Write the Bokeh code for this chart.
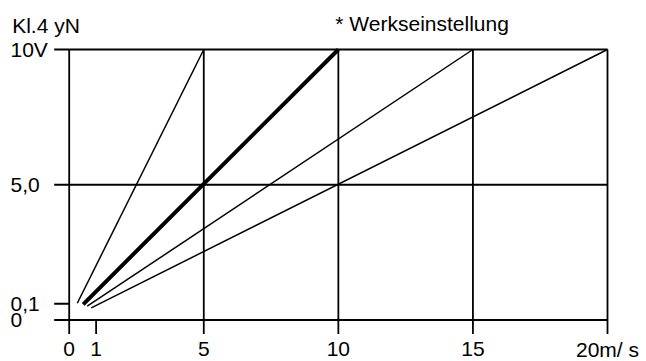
from bokeh.plotting import figure
from bokeh.models import Range1d, Label
from bokeh.embed import file_html
from bokeh.resources import INLINE

# ---- data ----
x_ticks = [0, 1, 5, 10, 15, 20]
x_tick_labels = ["0", "1", "5", "10", "15", "20m/ s"]
y_ticks = [0, 0.6, 5, 10]
y_tick_labels = ["0", "0,1", "5,0", "10V"]
x_grid = [0, 5, 10, 15, 20]
y_grid = [0, 5, 10]

# four characteristic lines (start and end points)
x_start = [0.30, 0.52, 0.67, 0.82]
y_start = [0.62, 0.58, 0.51, 0.45]
x_end = [5, 10, 15, 20]
y_end = [10, 10, 10, 10]
factory_setting = [False, True, False, False]

y_axis_title = "Kl.4 yN"
note_text = "* Werkseinstellung"

# ---- layout / style ----
W, H = 646, 361
BOX_L, BOX_R, BOX_T, BOX_B = 68.7, 607.0, 49.0, 319.5
FONT = "Liberation Sans"
FS = "21px"
LW = 1.8
XTICK_PX, YTICK_PX = 14, 15
DY = 7  # baseline correction

x_lo, x_hi = x_ticks[0], x_ticks[-1]
y_lo, y_hi = y_ticks[0], y_ticks[-1]
sx = (BOX_R - BOX_L) / (x_hi - x_lo)
sy = (BOX_B - BOX_T) / (y_hi - y_lo)

p = figure(width=W, height=H, output_backend="svg", toolbar_location=None,
           x_range=Range1d(x_lo - BOX_L / sx, x_hi + (W - BOX_R) / sx),
           y_range=Range1d(y_lo - (H - BOX_B) / sy, y_hi + BOX_T / sy),
           x_axis_location=None, y_axis_location=None,
           min_border=0)
p.background_fill_color = "white"
p.border_fill_color = "white"
p.outline_line_color = None
p.grid.visible = False

# grid / box lines
p.segment(x0=x_grid, y0=[y_lo] * len(x_grid), x1=x_grid, y1=[y_hi] * len(x_grid),
          line_color="black", line_width=LW)
p.segment(x0=[x_lo] * len(y_grid), y0=y_grid, x1=[x_hi] * len(y_grid), y1=y_grid,
          line_color="black", line_width=LW)

# tick marks
p.segment(x0=x_ticks, y0=[y_lo] * len(x_ticks), x1=x_ticks,
          y1=[y_lo - XTICK_PX / sy] * len(x_ticks), line_color="black", line_width=LW)
p.segment(x0=[x_lo - YTICK_PX / sx] * len(y_ticks), y0=y_ticks,
          x1=[x_lo] * len(y_ticks), y1=y_ticks, line_color="black", line_width=LW)

# characteristic lines
for xs, ys, xe, ye, fs in zip(x_start, y_start, x_end, y_end, factory_setting):
    p.line([xs, xe], [ys, ye], line_color="black", line_width=4.0 if fs else 1.5)

# tick labels
for t, l in zip(x_ticks, x_tick_labels):
    p.add_layout(Label(x=t, y=y_lo, y_offset=-36 + DY, text=l, text_align="center",
                       text_baseline="alphabetic", text_font=FONT, text_font_size=FS,
                       text_color="black"))
for t, l in zip(y_ticks, y_tick_labels):
    p.add_layout(Label(x=x_lo, y=t, x_offset=-58.7, y_offset=-7 + DY, text=l,
                       text_align="left", text_baseline="alphabetic",
                       text_font=FONT, text_font_size=FS, text_color="black"))

p.add_layout(Label(x=x_lo, y=y_hi, x_offset=-57, y_offset=17.5 + DY, text=y_axis_title,
                   text_align="left", text_baseline="alphabetic",
                   text_font=FONT, text_font_size=FS, text_color="black"))
p.add_layout(Label(x=10, y=y_hi, x_offset=-3, y_offset=19 + DY, text=note_text,
                   text_align="left", text_baseline="alphabetic",
                   text_font=FONT, text_font_size=FS, text_color="black"))

open("out.html", "w").write(file_html(p, INLINE))
